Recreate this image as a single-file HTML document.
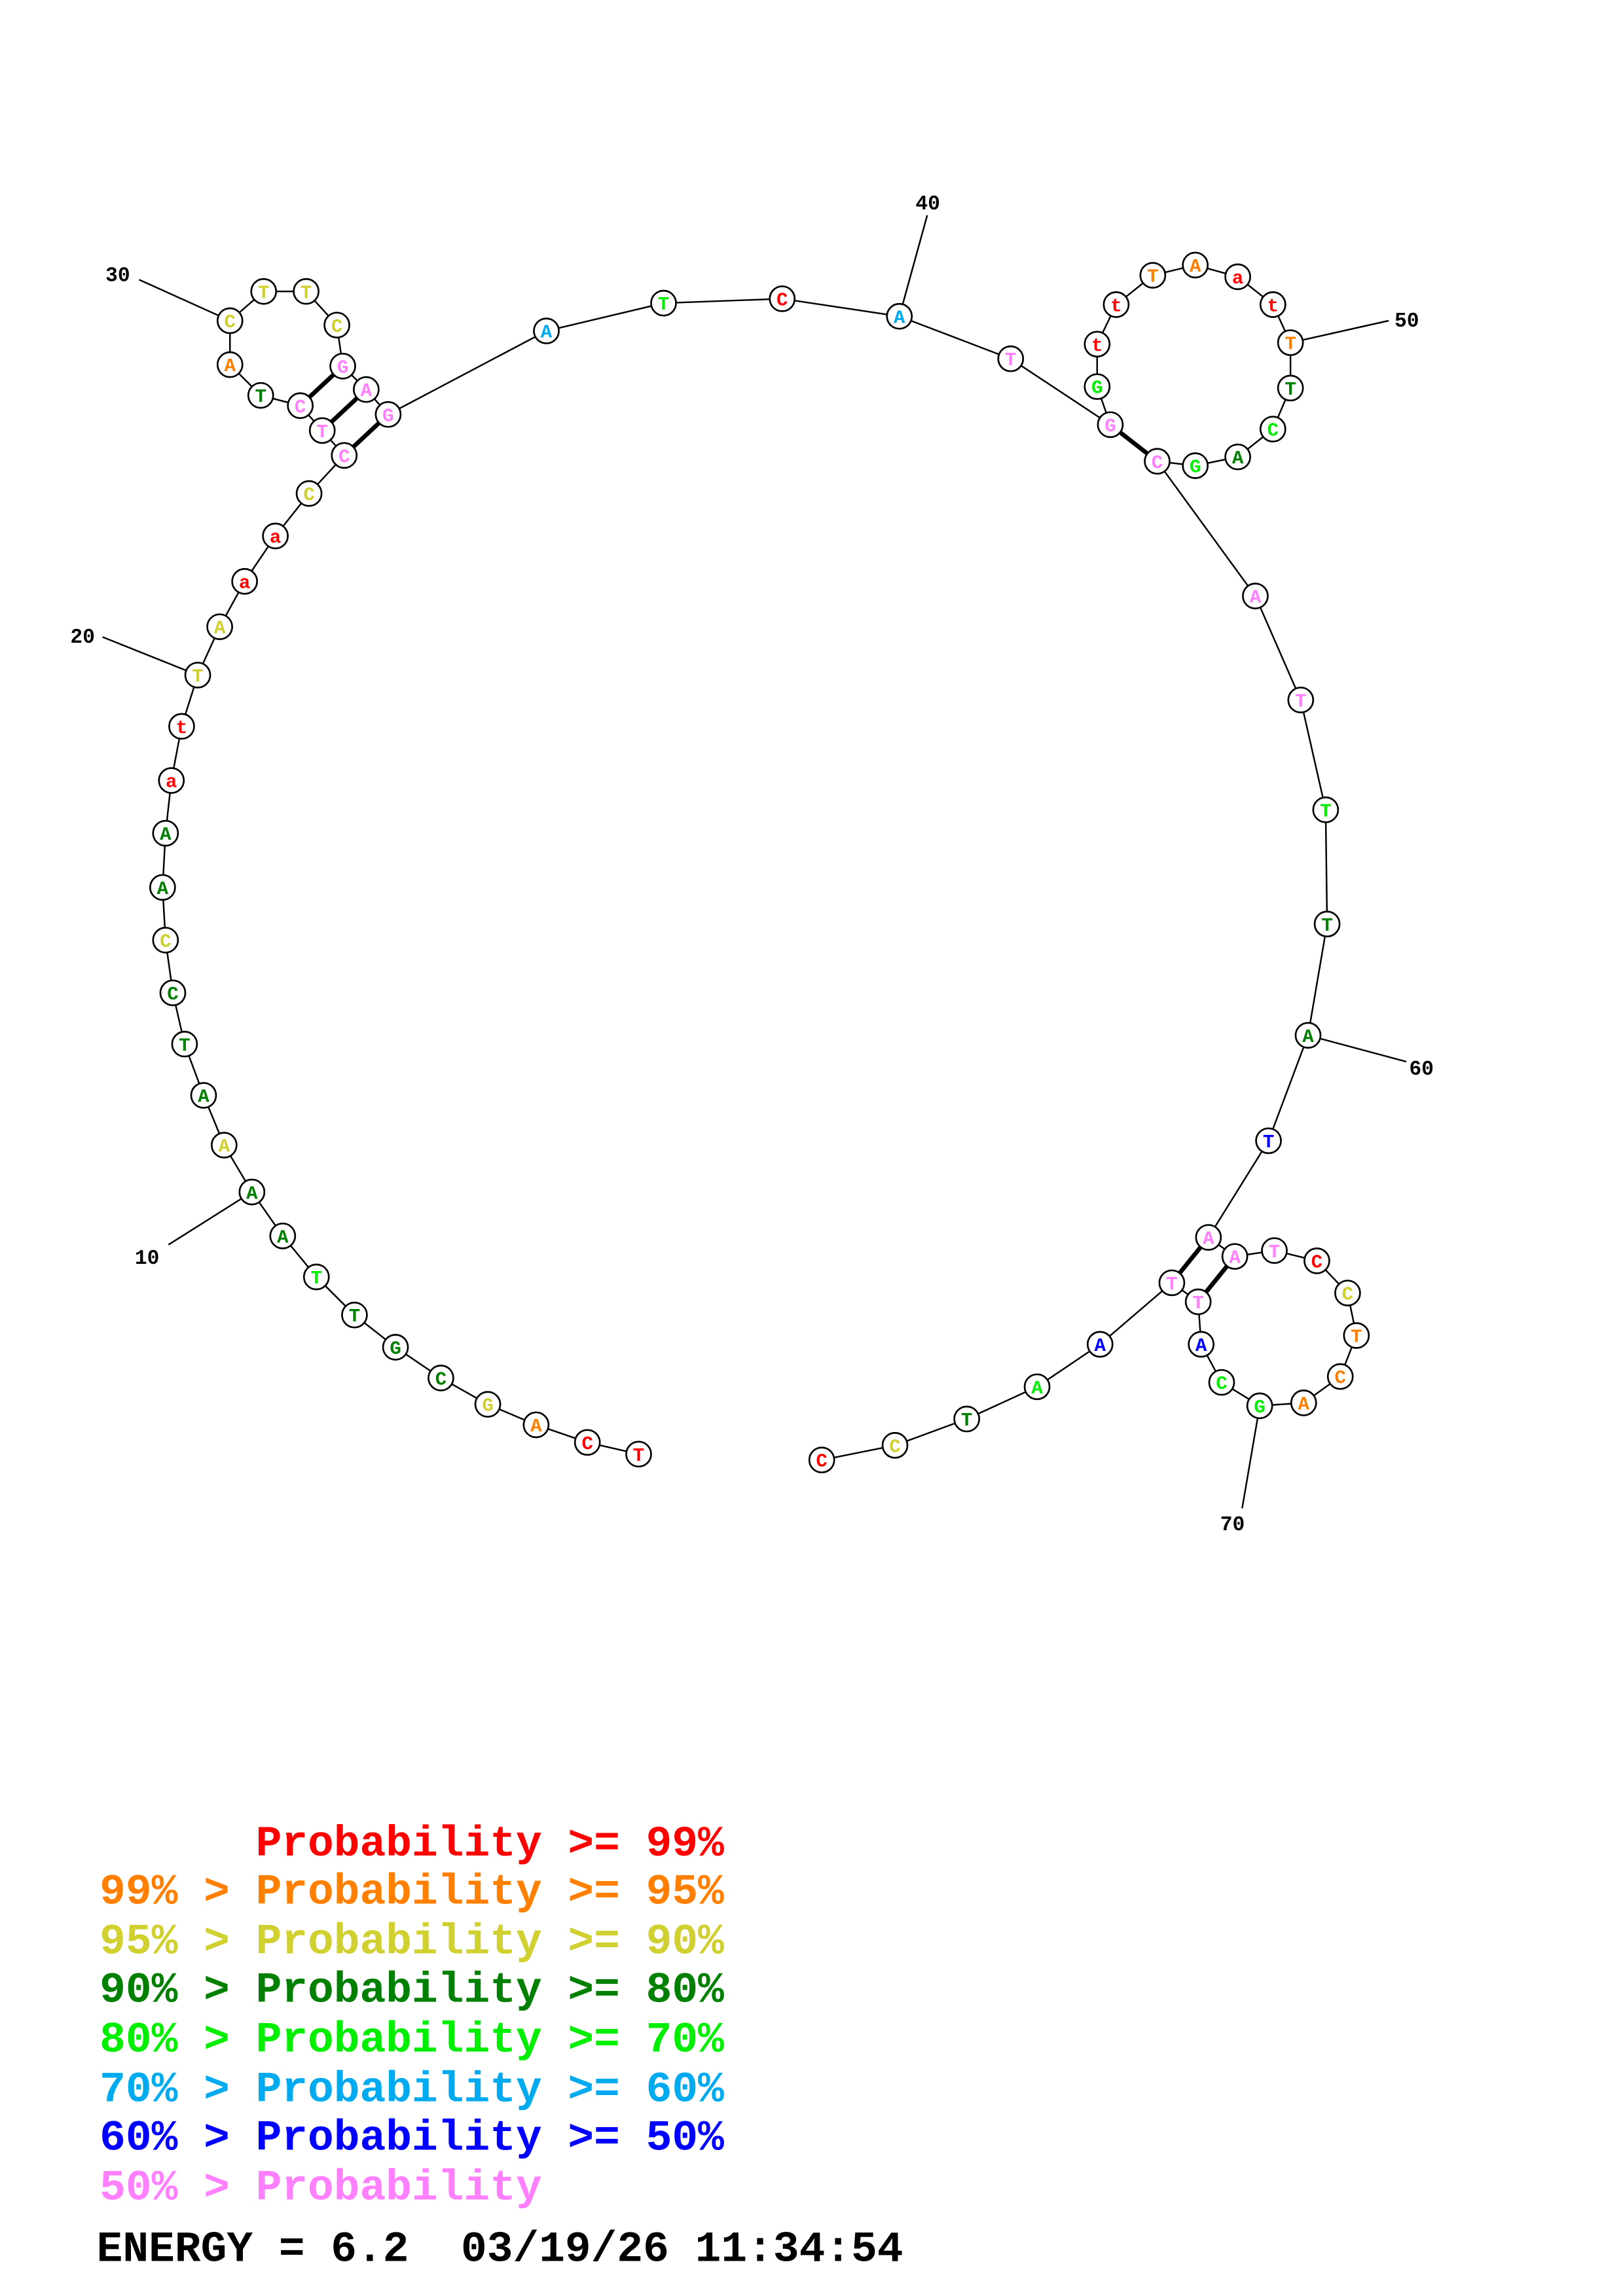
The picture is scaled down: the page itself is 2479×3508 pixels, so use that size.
<!DOCTYPE html>
<html><head><meta charset="utf-8"><style>
html,body{margin:0;padding:0;background:#fff}
svg{display:block}
.n circle{fill:#fff;stroke:#000;stroke-width:1.2}
.n text{font-family:"Liberation Mono",monospace;font-weight:bold;font-size:13px;text-anchor:middle}
.lb{font-family:"Liberation Mono",monospace;font-weight:bold;font-size:14px;fill:#000}
.lg{font-family:"Liberation Mono",monospace;font-weight:bold;font-size:29.6px;white-space:pre}
.R{fill:#ff0000}.O{fill:#ff8000}.Y{fill:#d0d030}.D{fill:#008000}.G{fill:#00ee00}.L{fill:#00aaee}.B{fill:#0000ff}.P{fill:#ff80ff}
</style></head><body>
<svg width="2479" height="3508" viewBox="0 0 1108 1567.9" xmlns="http://www.w3.org/2000/svg">
<g stroke="#000" stroke-width="1.1" fill="none">
<polyline points="436,993 401,985 366,973 333,959 301,941 270,920 242,898 216,872 193,844 172,814 153,782 139,748 126,713 118,678 113,642 111,606 113,569 117,533 124,496 135,461 150,428 167,397 188,366 211,337 235,311 220,294 205,277 178,270 157,249 157,219 180,199 209,199 230,222 234,250 250,266 265,283 373,226 453,207 534,204 614,216 690,245 758,290 749,264 749,235 762,208 787,188 816,181 845,189 869,208 881,234 881,265 869,293 845,312 816,318 790,315 857,407 888,478 905,553 906,631 893,707 866,779 825,845 843,858 870,854 899,861 920,883 926,912 915,940 890,958 860,960 834,944 820,918 818,889 800,876 751,918 708,947 660,969 611,987 561,997"/>
<line x1="172" y1="814" x2="115" y2="850"/>
<line x1="135" y1="461" x2="70" y2="435"/>
<line x1="157" y1="219" x2="95" y2="191"/>
<line x1="614" y1="216" x2="633" y2="147"/>
<line x1="881" y1="234" x2="948" y2="219"/>
<line x1="893" y1="707" x2="960" y2="725"/>
<line x1="860" y1="960" x2="848" y2="1030"/>
</g>
<g stroke="#000" stroke-width="3">
<line x1="205" y1="277" x2="234" y2="250"/>
<line x1="220" y1="294" x2="250" y2="266"/>
<line x1="235" y1="311" x2="265" y2="283"/>
<line x1="758" y1="290" x2="790" y2="315"/>
<line x1="825" y1="845" x2="800" y2="876"/>
<line x1="843" y1="858" x2="818" y2="889"/>
</g>
<text class="lb" x="92" y="863">10</text>
<text class="lb" x="48" y="439">20</text>
<text class="lb" x="72" y="192">30</text>
<text class="lb" x="625" y="143">40</text>
<text class="lb" x="952" y="223">50</text>
<text class="lb" x="962" y="734">60</text>
<text class="lb" x="833" y="1045">70</text>
<g class="n">
<circle cx="436" cy="993" r="8.5"/><text x="436" y="997.5" class="R">T</text>
<circle cx="401" cy="985" r="8.5"/><text x="401" y="989.5" class="R">C</text>
<circle cx="366" cy="973" r="8.5"/><text x="366" y="977.5" class="O">A</text>
<circle cx="333" cy="959" r="8.5"/><text x="333" y="963.5" class="Y">G</text>
<circle cx="301" cy="941" r="8.5"/><text x="301" y="945.5" class="D">C</text>
<circle cx="270" cy="920" r="8.5"/><text x="270" y="924.5" class="D">G</text>
<circle cx="242" cy="898" r="8.5"/><text x="242" y="902.5" class="D">T</text>
<circle cx="216" cy="872" r="8.5"/><text x="216" y="876.5" class="G">T</text>
<circle cx="193" cy="844" r="8.5"/><text x="193" y="848.5" class="D">A</text>
<circle cx="172" cy="814" r="8.5"/><text x="172" y="818.5" class="D">A</text>
<circle cx="153" cy="782" r="8.5"/><text x="153" y="786.5" class="Y">A</text>
<circle cx="139" cy="748" r="8.5"/><text x="139" y="752.5" class="D">A</text>
<circle cx="126" cy="713" r="8.5"/><text x="126" y="717.5" class="D">T</text>
<circle cx="118" cy="678" r="8.5"/><text x="118" y="682.5" class="D">C</text>
<circle cx="113" cy="642" r="8.5"/><text x="113" y="646.5" class="Y">C</text>
<circle cx="111" cy="606" r="8.5"/><text x="111" y="610.5" class="D">A</text>
<circle cx="113" cy="569" r="8.5"/><text x="113" y="573.5" class="D">A</text>
<circle cx="117" cy="533" r="8.5"/><text x="117" y="537.5" class="R">a</text>
<circle cx="124" cy="496" r="8.5"/><text x="124" y="500.5" class="R">t</text>
<circle cx="135" cy="461" r="8.5"/><text x="135" y="465.5" class="Y">T</text>
<circle cx="150" cy="428" r="8.5"/><text x="150" y="432.5" class="Y">A</text>
<circle cx="167" cy="397" r="8.5"/><text x="167" y="401.5" class="R">a</text>
<circle cx="188" cy="366" r="8.5"/><text x="188" y="370.5" class="R">a</text>
<circle cx="211" cy="337" r="8.5"/><text x="211" y="341.5" class="Y">C</text>
<circle cx="235" cy="311" r="8.5"/><text x="235" y="315.5" class="P">C</text>
<circle cx="220" cy="294" r="8.5"/><text x="220" y="298.5" class="P">T</text>
<circle cx="205" cy="277" r="8.5"/><text x="205" y="281.5" class="P">C</text>
<circle cx="178" cy="270" r="8.5"/><text x="178" y="274.5" class="D">T</text>
<circle cx="157" cy="249" r="8.5"/><text x="157" y="253.5" class="O">A</text>
<circle cx="157" cy="219" r="8.5"/><text x="157" y="223.5" class="Y">C</text>
<circle cx="180" cy="199" r="8.5"/><text x="180" y="203.5" class="Y">T</text>
<circle cx="209" cy="199" r="8.5"/><text x="209" y="203.5" class="Y">T</text>
<circle cx="230" cy="222" r="8.5"/><text x="230" y="226.5" class="Y">C</text>
<circle cx="234" cy="250" r="8.5"/><text x="234" y="254.5" class="P">G</text>
<circle cx="250" cy="266" r="8.5"/><text x="250" y="270.5" class="P">A</text>
<circle cx="265" cy="283" r="8.5"/><text x="265" y="287.5" class="P">G</text>
<circle cx="373" cy="226" r="8.5"/><text x="373" y="230.5" class="L">A</text>
<circle cx="453" cy="207" r="8.5"/><text x="453" y="211.5" class="G">T</text>
<circle cx="534" cy="204" r="8.5"/><text x="534" y="208.5" class="R">C</text>
<circle cx="614" cy="216" r="8.5"/><text x="614" y="220.5" class="L">A</text>
<circle cx="690" cy="245" r="8.5"/><text x="690" y="249.5" class="P">T</text>
<circle cx="758" cy="290" r="8.5"/><text x="758" y="294.5" class="P">G</text>
<circle cx="749" cy="264" r="8.5"/><text x="749" y="268.5" class="G">G</text>
<circle cx="749" cy="235" r="8.5"/><text x="749" y="239.5" class="R">t</text>
<circle cx="762" cy="208" r="8.5"/><text x="762" y="212.5" class="R">t</text>
<circle cx="787" cy="188" r="8.5"/><text x="787" y="192.5" class="O">T</text>
<circle cx="816" cy="181" r="8.5"/><text x="816" y="185.5" class="O">A</text>
<circle cx="845" cy="189" r="8.5"/><text x="845" y="193.5" class="R">a</text>
<circle cx="869" cy="208" r="8.5"/><text x="869" y="212.5" class="R">t</text>
<circle cx="881" cy="234" r="8.5"/><text x="881" y="238.5" class="O">T</text>
<circle cx="881" cy="265" r="8.5"/><text x="881" y="269.5" class="D">T</text>
<circle cx="869" cy="293" r="8.5"/><text x="869" y="297.5" class="G">C</text>
<circle cx="845" cy="312" r="8.5"/><text x="845" y="316.5" class="D">A</text>
<circle cx="816" cy="318" r="8.5"/><text x="816" y="322.5" class="G">G</text>
<circle cx="790" cy="315" r="8.5"/><text x="790" y="319.5" class="P">C</text>
<circle cx="857" cy="407" r="8.5"/><text x="857" y="411.5" class="P">A</text>
<circle cx="888" cy="478" r="8.5"/><text x="888" y="482.5" class="P">T</text>
<circle cx="905" cy="553" r="8.5"/><text x="905" y="557.5" class="G">T</text>
<circle cx="906" cy="631" r="8.5"/><text x="906" y="635.5" class="D">T</text>
<circle cx="893" cy="707" r="8.5"/><text x="893" y="711.5" class="D">A</text>
<circle cx="866" cy="779" r="8.5"/><text x="866" y="783.5" class="B">T</text>
<circle cx="825" cy="845" r="8.5"/><text x="825" y="849.5" class="P">A</text>
<circle cx="843" cy="858" r="8.5"/><text x="843" y="862.5" class="P">A</text>
<circle cx="870" cy="854" r="8.5"/><text x="870" y="858.5" class="P">T</text>
<circle cx="899" cy="861" r="8.5"/><text x="899" y="865.5" class="R">C</text>
<circle cx="920" cy="883" r="8.5"/><text x="920" y="887.5" class="Y">C</text>
<circle cx="926" cy="912" r="8.5"/><text x="926" y="916.5" class="O">T</text>
<circle cx="915" cy="940" r="8.5"/><text x="915" y="944.5" class="O">C</text>
<circle cx="890" cy="958" r="8.5"/><text x="890" y="962.5" class="O">A</text>
<circle cx="860" cy="960" r="8.5"/><text x="860" y="964.5" class="G">G</text>
<circle cx="834" cy="944" r="8.5"/><text x="834" y="948.5" class="G">C</text>
<circle cx="820" cy="918" r="8.5"/><text x="820" y="922.5" class="B">A</text>
<circle cx="818" cy="889" r="8.5"/><text x="818" y="893.5" class="P">T</text>
<circle cx="800" cy="876" r="8.5"/><text x="800" y="880.5" class="P">T</text>
<circle cx="751" cy="918" r="8.5"/><text x="751" y="922.5" class="B">A</text>
<circle cx="708" cy="947" r="8.5"/><text x="708" y="951.5" class="G">A</text>
<circle cx="660" cy="969" r="8.5"/><text x="660" y="973.5" class="D">T</text>
<circle cx="611" cy="987" r="8.5"/><text x="611" y="991.5" class="Y">C</text>
<circle cx="561" cy="997" r="8.5"/><text x="561" y="1001.5" class="R">C</text>
</g>
<text class="lg R" x="68" y="1267">      Probability &gt;= 99%</text>
<text class="lg O" x="68" y="1300">99% &gt; Probability &gt;= 95%</text>
<text class="lg Y" x="68" y="1334">95% &gt; Probability &gt;= 90%</text>
<text class="lg D" x="68" y="1367">90% &gt; Probability &gt;= 80%</text>
<text class="lg G" x="68" y="1401">80% &gt; Probability &gt;= 70%</text>
<text class="lg L" x="68" y="1435">70% &gt; Probability &gt;= 60%</text>
<text class="lg B" x="68" y="1468">60% &gt; Probability &gt;= 50%</text>
<text class="lg P" x="68" y="1502">50% &gt; Probability</text>
<text class="lg" x="66" y="1544" fill="#000">ENERGY = 6.2  03/19/26 11:34:54</text>
</svg>
</body></html>
